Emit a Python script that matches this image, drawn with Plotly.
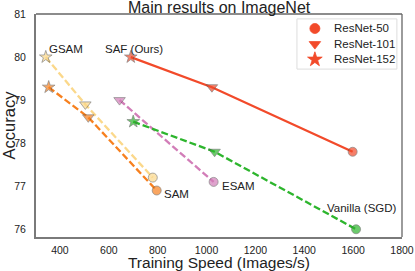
import plotly.graph_objects as go

# ---- data ----
methods = ["SAF (Ours)", "GSAM", "SAM", "ESAM", "Vanilla (SGD)"]
models = ["ResNet-152", "ResNet-101", "ResNet-50"]
saf_speed = [690, 1022, 1598]
saf_acc = [80.0, 79.3, 77.8]
gsam_speed = [342, 504, 780]
gsam_acc = [80.0, 78.9, 77.2]
sam_speed = [354, 516, 796]
sam_acc = [79.3, 78.6, 76.9]
esam_speed = [644, 1029]
esam_acc = [79.0, 77.1]
sgd_speed = [700, 1033, 1612]
sgd_acc = [78.5, 77.8, 76.0]
x_ticks = [400, 600, 800, 1000, 1200, 1400, 1600, 1800]
y_ticks = [76, 77, 78, 79, 80, 81]
legend_models = ["ResNet-50", "ResNet-101", "ResNet-152"]

X_RANGE = [302, 1800]
Y_RANGE = [75.82, 81.0]

FONT = "Liberation Sans, Arial, sans-serif"
RED = "#F24A2A"
ORANGE = "#F7801E"
YELLOW = "#FBD88A"
PURPLE = "#D27DB8"
GREEN = "#2DB52D"

sym_map = {"ResNet-152": "star", "ResNet-101": "triangle-down", "ResNet-50": "circle"}
size_map = {"ResNet-152": 9.5, "ResNet-101": 10, "ResNet-50": 9}

fig = go.Figure()

def add_series(xs, ys, color, dash, mdl):
    fig.add_trace(go.Scatter(
        x=xs, y=ys, mode="lines+markers", showlegend=False,
        line=dict(color=color, width=2.3, dash=dash),
        marker=dict(symbol=[sym_map[m] for m in mdl], size=[size_map[m] for m in mdl],
                    color=color, line=dict(color="#555555", width=0.7)),
    ))

add_series(gsam_speed, gsam_acc, YELLOW, "7px,3px", models)
add_series(sam_speed, sam_acc, ORANGE, "7px,3px", models)
add_series(esam_speed, esam_acc, PURPLE, "7px,3px", models[1:])
add_series(sgd_speed, sgd_acc, GREEN, "7px,3px", models)
add_series(saf_speed, saf_acc, RED, "solid", models)

labels = [
    ("GSAM", 346, 80.19, "left"),
    ("SAF (Ours)", 703, 80.19, "center"),
    ("SAM", 816, 76.81, "left"),
    ("ESAM", 1054, 77.0, "left"),
    ("Vanilla (SGD)", 1483, 76.49, "left"),
]
for t, x, y, al in labels:
    fig.add_annotation(x=x, y=y, text=t, showarrow=False, xanchor=al, yanchor="middle",
                       font=dict(family=FONT, size=11.5, color="#222222"))

# custom legend (box + markers placed at fractions of the plot area)
leg_y = [0.935, 0.865, 0.796]
leg_x = 0.762
fig.add_shape(type="rect", xref="paper", yref="paper", x0=0.713, x1=0.986, y0=0.753, y1=0.978,
              line=dict(color="#DDDDDD", width=1), fillcolor="white", layer="below")
def px(f):
    return X_RANGE[0] + f * (X_RANGE[1] - X_RANGE[0])
def py(f):
    return Y_RANGE[0] + f * (Y_RANGE[1] - Y_RANGE[0])
fig.add_trace(go.Scatter(
    x=[px(leg_x)] * 3, y=[py(v) for v in leg_y], mode="markers", showlegend=False,
    opacity=1,
    marker=dict(symbol=[sym_map[m] for m in legend_models], size=[10, 10, 11], color=RED,
                opacity=1, line=dict(color=RED, width=0.8)),
    hoverinfo="skip",
))
for m, yy in zip(legend_models, leg_y):
    fig.add_annotation(xref="paper", yref="paper", x=0.808, y=yy, text=m, showarrow=False,
                       xanchor="left", yanchor="middle",
                       font=dict(family=FONT, size=11.5, color="#222222"))

# top/right thin frame
fig.add_shape(type="line", xref="paper", yref="paper", x0=0, x1=1, y0=1, y1=1,
              line=dict(color="#666666", width=1.3))
fig.add_shape(type="line", xref="paper", yref="paper", x0=1, x1=1, y0=0, y1=1,
              line=dict(color="#666666", width=1.3))

fig.update_layout(
    width=415, height=271,
    margin=dict(l=36, r=13, t=14, b=34),
    paper_bgcolor="white", plot_bgcolor="white",
    font=dict(family=FONT, color="#222222"),
    title=dict(text="Main results on ImageNet", x=0.528, xanchor="center",
               xref="container", yref="container",
               y=0.972, yanchor="middle", font=dict(size=16, color="#222222")),
    showlegend=False,
)
fig.update_xaxes(
    range=X_RANGE, tickvals=x_ticks, showgrid=False, zeroline=False, automargin=False,
    showline=True, linecolor="#7a7a7a", linewidth=2,
    ticks="outside", ticklen=2, tickcolor="rgba(0,0,0,0)",
    tickfont=dict(size=10.5, color="#222222"),
    title=dict(text="Training Speed (Images/s)", font=dict(size=15.5), standoff=5))
fig.update_yaxes(
    range=Y_RANGE, tickvals=y_ticks, showgrid=False, zeroline=False, automargin=False,
    showline=True, linecolor="#7a7a7a", linewidth=2,
    ticks="outside", ticklen=6, tickcolor="rgba(0,0,0,0)",
    tickfont=dict(size=10.5, color="#222222"),
    title=dict(text="Accuracy", font=dict(size=16.5), standoff=2))

fig.write_html("out.html", post_script="document.body.style.margin='0';",
               config={"displayModeBar": False})
